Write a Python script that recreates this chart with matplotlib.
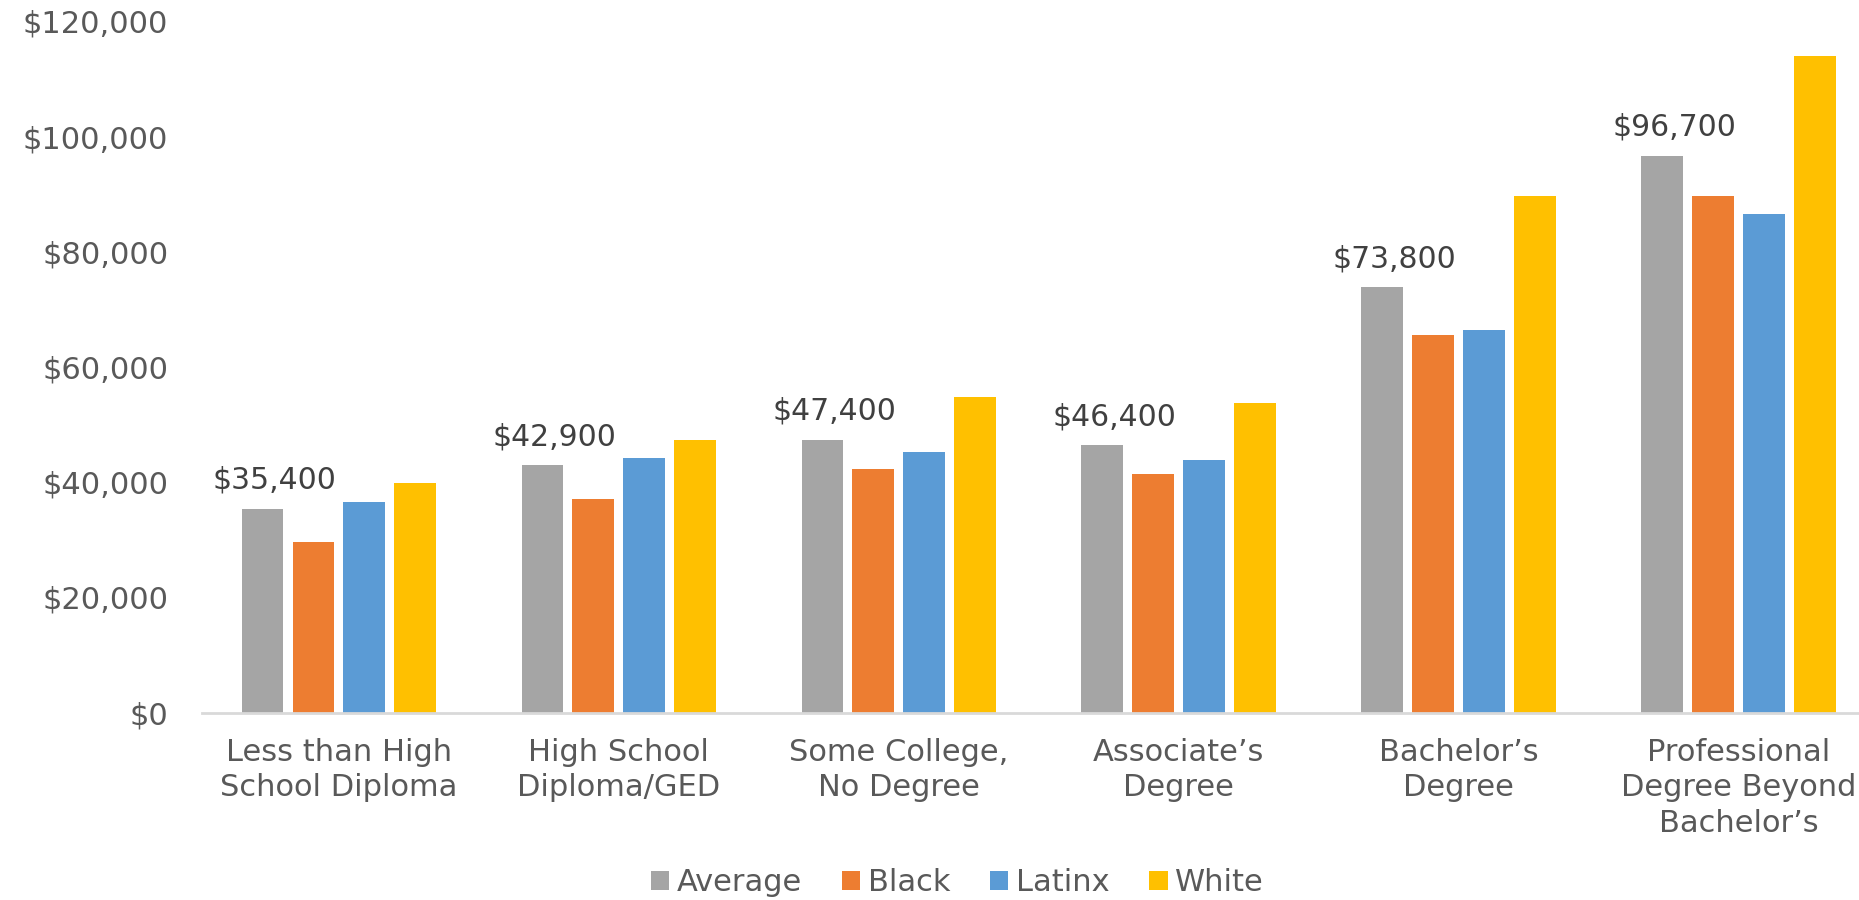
import matplotlib
matplotlib.use("Agg")
import matplotlib.pyplot as plt
import numpy as np

categories = ["Less than High\nSchool Diploma", "High School\nDiploma/GED", "Some College,\nNo Degree",
              "Associate\u2019s\nDegree", "Bachelor\u2019s\nDegree", "Professional\nDegree Beyond\nBachelor\u2019s"]
series_names = ["Average", "Black", "Latinx", "White"]
average = [35400, 42900, 47400, 46400, 73800, 96700]
black = [29700, 37000, 42300, 41500, 65500, 89600]
latinx = [36500, 44200, 45200, 43900, 66400, 86500]
white = [39800, 47400, 54800, 53800, 89700, 113900]
avg_labels = ["$35,400", "$42,900", "$47,400", "$46,400", "$73,800", "$96,700"]
yticks = [0, 20000, 40000, 60000, 80000, 100000, 120000]
ytick_labels = ["$0", "$20,000", "$40,000", "$60,000", "$80,000", "$100,000", "$120,000"]
colors = ["#A5A5A5", "#ED7D31", "#5B9BD5", "#FFC000"]

text_color = "#595959"
plt.rcParams['font.family'] = ['DejaVu Sans']

fig = plt.figure(figsize=(18.59, 9.0), dpi=100)
ax = fig.add_axes([0.1084, 0.2082, 0.8916, 0.7681])

x = np.arange(len(categories))
step = 0.182
width = 0.148
all_series = [average, black, latinx, white]
for i, (name, vals, c) in enumerate(zip(series_names, all_series, colors)):
    ax.bar(x + (i - 1.5) * step, vals, width=width, color=c, label=name, zorder=2)

for xi, v, lab in zip(x, average, avg_labels):
    ax.annotate(lab, (xi - 1.5 * step, v), xytext=(9, 10), textcoords="offset points",
                ha="center", va="bottom", fontsize=21.5, color="#404040")

ax.set_ylim(0, 120000)
ax.set_xlim(-0.49, 5.43)
ax.set_yticks(yticks)
ax.set_yticklabels(ytick_labels, fontsize=22, color=text_color)
ax.set_xticks(x)
ax.set_xticklabels(categories, fontsize=22, color=text_color, linespacing=1.28)
ax.tick_params(axis="both", length=0)
ax.tick_params(axis="y", pad=24)
ax.tick_params(axis="x", pad=18)
for s in ["top", "right", "left"]:
    ax.spines[s].set_visible(False)
ax.spines["bottom"].set_color("#D9D9D9")
ax.spines["bottom"].set_linewidth(2)

handles, labels = ax.get_legend_handles_labels()
leg = fig.legend(handles, labels, loc="center", bbox_to_anchor=(0.515, 0.019), ncol=4, frameon=False,
                 fontsize=22, handlelength=0.6, handleheight=0.6, handletextpad=0.25, columnspacing=1.3)
for t in leg.get_texts():
    t.set_color(text_color)

fig.savefig("out.png", dpi=100)
